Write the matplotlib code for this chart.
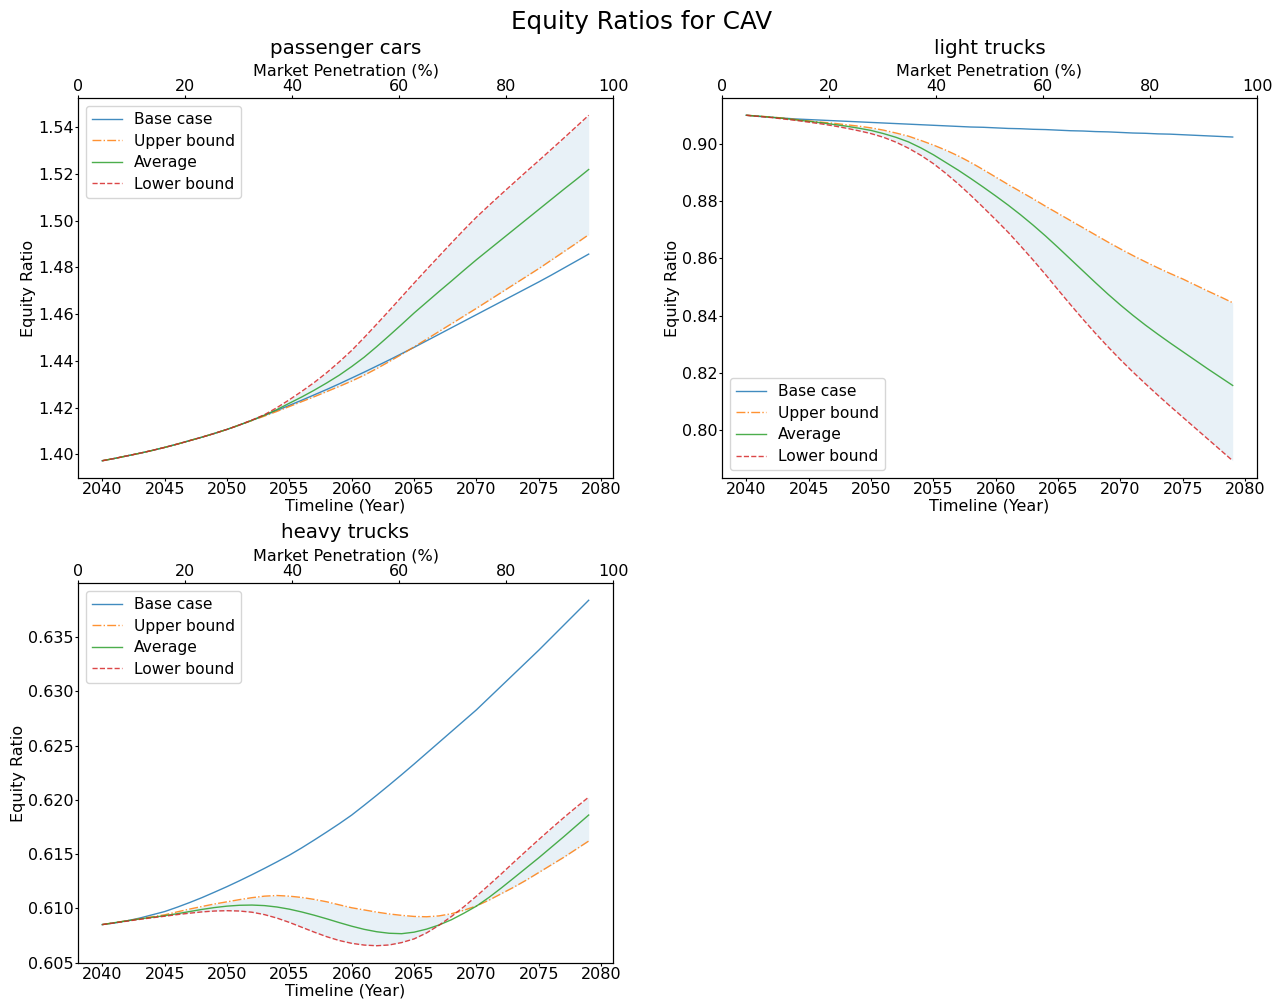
import matplotlib
matplotlib.use("Agg")
import matplotlib.pyplot as plt

years = list(range(2040, 2080))
series_labels = ["Base case", "Upper bound", "Average", "Lower bound"]
panel_titles = ["passenger cars", "light trucks", "heavy trucks"]

# passenger cars
pc_base = [1.3973, 1.3983, 1.3994, 1.4005, 1.4017, 1.4030, 1.4044, 1.4059, 1.4074, 1.4090,
           1.4107, 1.4126, 1.4146, 1.4167, 1.4188, 1.4210, 1.4232, 1.4255, 1.4278, 1.4302,
           1.4327, 1.4352, 1.4378, 1.4404, 1.4431, 1.4458, 1.4486, 1.4514, 1.4542, 1.4570,
           1.4598, 1.4626, 1.4654, 1.4682, 1.4710, 1.4738, 1.4767, 1.4797, 1.4827, 1.4857]
pc_upper = [1.3973, 1.3983, 1.3994, 1.4005, 1.4017, 1.4030, 1.4044, 1.4059, 1.4074, 1.4090,
            1.4107, 1.4126, 1.4145, 1.4164, 1.4184, 1.4205, 1.4226, 1.4247, 1.4269, 1.4291,
            1.4314, 1.4339, 1.4367, 1.4397, 1.4428, 1.4460, 1.4493, 1.4526, 1.4559, 1.4592,
            1.4625, 1.4659, 1.4693, 1.4727, 1.4761, 1.4795, 1.4831, 1.4867, 1.4903, 1.4940]
pc_avg = [1.3973, 1.3983, 1.3994, 1.4005, 1.4017, 1.4030, 1.4044, 1.4059, 1.4074, 1.4090,
          1.4107, 1.4126, 1.4146, 1.4168, 1.4192, 1.4219, 1.4246, 1.4275, 1.4306, 1.4339,
          1.4376, 1.4416, 1.4461, 1.4508, 1.4556, 1.4605, 1.4651, 1.4697, 1.4742, 1.4788,
          1.4833, 1.4876, 1.4919, 1.4962, 1.5005, 1.5048, 1.5091, 1.5134, 1.5176, 1.5219]
pc_lower = [1.3973, 1.3983, 1.3994, 1.4005, 1.4017, 1.4030, 1.4044, 1.4059, 1.4074, 1.4090,
            1.4107, 1.4126, 1.4147, 1.4170, 1.4200, 1.4234, 1.4270, 1.4308, 1.4350, 1.4396,
            1.4445, 1.4500, 1.4557, 1.4615, 1.4674, 1.4733, 1.4791, 1.4848, 1.4905, 1.4961,
            1.5015, 1.5065, 1.5114, 1.5162, 1.5210, 1.5257, 1.5305, 1.5353, 1.5402, 1.5451]

# light trucks
lt_base = [0.9100, 0.9096, 0.9093, 0.9090, 0.9087, 0.9085, 0.9083, 0.9081, 0.9079, 0.9077,
           0.9075, 0.9073, 0.9071, 0.9069, 0.9067, 0.9065, 0.9063, 0.9061, 0.9059, 0.9058,
           0.9056, 0.9054, 0.9053, 0.9051, 0.9050, 0.9048, 0.9046, 0.9045, 0.9043, 0.9042,
           0.9040, 0.9038, 0.9037, 0.9035, 0.9034, 0.9032, 0.9030, 0.9028, 0.9026, 0.9024]
lt_upper = [0.9100, 0.9097, 0.9094, 0.9090, 0.9085, 0.9080, 0.9076, 0.9072, 0.9067, 0.9062,
            0.9056, 0.9048, 0.9038, 0.9027, 0.9012, 0.8996, 0.8978, 0.8958, 0.8935, 0.8910,
            0.8884, 0.8858, 0.8833, 0.8808, 0.8782, 0.8757, 0.8732, 0.8707, 0.8682, 0.8657,
            0.8633, 0.8610, 0.8588, 0.8567, 0.8547, 0.8528, 0.8507, 0.8486, 0.8466, 0.8445]
lt_avg = [0.9100, 0.9097, 0.9093, 0.9089, 0.9084, 0.9079, 0.9074, 0.9068, 0.9062, 0.9055,
          0.9047, 0.9036, 0.9023, 0.9007, 0.8986, 0.8962, 0.8935, 0.8908, 0.8879, 0.8849,
          0.8818, 0.8786, 0.8752, 0.8716, 0.8678, 0.8638, 0.8597, 0.8556, 0.8515, 0.8475,
          0.8437, 0.8401, 0.8367, 0.8335, 0.8304, 0.8274, 0.8244, 0.8214, 0.8185, 0.8156]
lt_lower = [0.9100, 0.9096, 0.9092, 0.9087, 0.9082, 0.9076, 0.9070, 0.9063, 0.9055, 0.9046,
            0.9036, 0.9023, 0.9006, 0.8985, 0.8960, 0.8931, 0.8897, 0.8860, 0.8820, 0.8778,
            0.8735, 0.8691, 0.8643, 0.8594, 0.8543, 0.8490, 0.8438, 0.8387, 0.8338, 0.8291,
            0.8246, 0.8203, 0.8162, 0.8122, 0.8083, 0.8045, 0.8007, 0.7969, 0.7931, 0.7893]

# heavy trucks
ht_base = [0.60850, 0.60865, 0.60885, 0.60910, 0.60940, 0.60970, 0.61010, 0.61053, 0.61099, 0.61149,
           0.61200, 0.61254, 0.61310, 0.61368, 0.61428, 0.61490, 0.61558, 0.61630, 0.61704, 0.61780,
           0.61860, 0.61950, 0.62042, 0.62136, 0.62232, 0.62330, 0.62430, 0.62530, 0.62630, 0.62730,
           0.62830, 0.62940, 0.63050, 0.63160, 0.63270, 0.63380, 0.63495, 0.63610, 0.63725, 0.63840]
ht_upper = [0.60850, 0.60868, 0.60886, 0.60904, 0.60922, 0.60940, 0.60967, 0.60993, 0.61017, 0.61040,
            0.61060, 0.61080, 0.61098, 0.61112, 0.61118, 0.61112, 0.61100, 0.61082, 0.61060, 0.61032,
            0.61005, 0.60985, 0.60965, 0.60948, 0.60935, 0.60925, 0.60922, 0.60930, 0.60950, 0.60982,
            0.61022, 0.61075, 0.61135, 0.61195, 0.61260, 0.61330, 0.61400, 0.61470, 0.61545, 0.61620]
ht_avg = [0.60850, 0.60868, 0.60885, 0.60902, 0.60917, 0.60932, 0.60950, 0.60970, 0.60990, 0.61007,
          0.61020, 0.61028, 0.61030, 0.61025, 0.61012, 0.60992, 0.60966, 0.60936, 0.60903, 0.60868,
          0.60835, 0.60806, 0.60784, 0.60770, 0.60766, 0.60780, 0.60808, 0.60846, 0.60895, 0.60955,
          0.61020, 0.61100, 0.61188, 0.61280, 0.61373, 0.61466, 0.61563, 0.61660, 0.61760, 0.61860]
ht_lower = [0.60850, 0.60866, 0.60882, 0.60898, 0.60913, 0.60927, 0.60942, 0.60955, 0.60967, 0.60975,
            0.60978, 0.60975, 0.60964, 0.60942, 0.60910, 0.60870, 0.60825, 0.60780, 0.60738, 0.60703,
            0.60677, 0.60661, 0.60655, 0.60662, 0.60684, 0.60718, 0.60773, 0.60844, 0.60925, 0.61015,
            0.61112, 0.61214, 0.61318, 0.61425, 0.61530, 0.61634, 0.61736, 0.61836, 0.61932, 0.62025]

panels = [
    (pc_base, pc_upper, pc_avg, pc_lower, "upper left"),
    (lt_base, lt_upper, lt_avg, lt_lower, "lower left"),
    (ht_base, ht_upper, ht_avg, ht_lower, "upper left"),
]

FS = 11.5
LW = 1.0
AL = 0.85
fig = plt.figure(figsize=(12.83, 10), dpi=100)
rects = [
    [78 / 1283, 1 - 478 / 1000, 535 / 1283, 380 / 1000],
    [722 / 1283, 1 - 478 / 1000, 535 / 1283, 380 / 1000],
    [78 / 1283, 1 - 963 / 1000, 535 / 1283, 380 / 1000],
]

for rect, title, (b, u, a, l, loc) in zip(rects, panel_titles, panels):
    ax = fig.add_axes(rect)
    ax.plot(years, b, color="C0", lw=LW, alpha=AL, ls="-", label=series_labels[0])
    ax.plot(years, u, color="C1", lw=LW, alpha=AL, ls="-.", label=series_labels[1])
    ax.plot(years, a, color="C2", lw=LW, alpha=AL, ls="-", label=series_labels[2])
    ax.plot(years, l, color="C3", lw=LW, alpha=AL, ls="--", label=series_labels[3])
    ax.fill_between(years, u, l, color="C0", alpha=0.1, lw=0)
    ax.set_xlabel("Timeline (Year)", fontsize=FS, labelpad=1)
    ax.set_ylabel("Equity Ratio", fontsize=FS, labelpad=1.5)
    ax.tick_params(labelsize=FS, length=2.5, pad=0.6)
    ax.legend(loc=loc, fontsize=11.2, handlelength=1.9, labelspacing=0.42)
    ax2 = ax.twiny()
    ax2.set_xlim(0, 100)
    ax2.set_xlabel("Market Penetration (%)", fontsize=FS, labelpad=2)
    ax2.tick_params(labelsize=FS, length=2.5, pad=0.6)
    ax.set_title(title, fontsize=14.3, pad=7.5)

fig.suptitle("Equity Ratios for CAV", fontsize=17.7, y=0.99)
fig.savefig("out.png", dpi=100)
